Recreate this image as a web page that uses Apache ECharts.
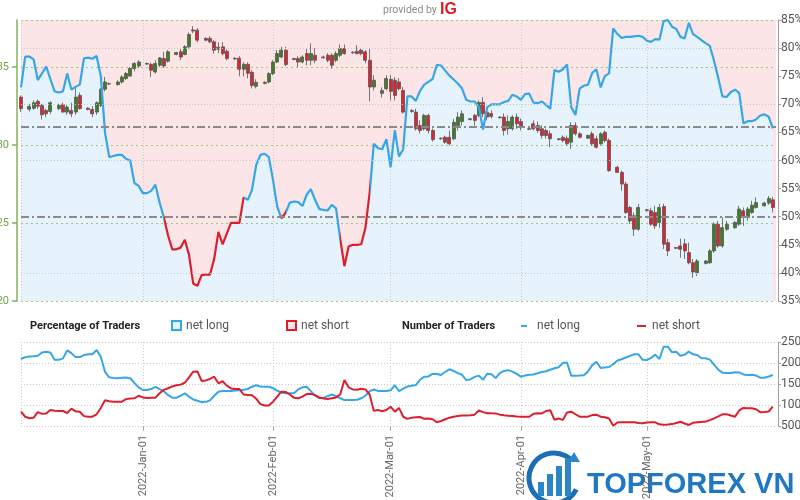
<!DOCTYPE html>
<html><head><meta charset="utf-8">
<script src="https://cdn.jsdelivr.net/npm/echarts@6/dist/echarts.min.js"></script>
<style>html,body{margin:0;padding:0;background:#fff}#c{width:800px;height:500px}</style>
</head><body><div id="c"></div><script>
// ---- daily sentiment data, one value per calendar day from 2021-12-03 ----
const lineStartDate = [2021, 11, 3];
const netLongPct = [
73.0,78.5,78.5,78.0,74.3,75.5,76.7,74.5,72.3,72.1,
72.3,75.5,72.6,73.1,73.5,78.2,78.3,78.1,78.6,75.0,
65.0,60.6,60.8,61.0,61.0,60.3,60.0,56.0,55.5,54.2,
54.2,54.6,55.7,52.5,49.9,46.7,44.2,44.2,44.5,45.9,
43.2,38.1,37.7,39.6,39.7,39.7,42.5,47.3,45.1,47.0,
48.9,48.9,48.9,53.4,53.0,54.8,59.2,61.0,61.2,60.6,
56.5,51.8,49.7,50.7,52.5,52.7,52.6,51.9,53.9,54.9,
53.0,51.4,51.2,51.1,52.1,51.5,46.0,41.2,44.7,45.0,
45.0,45.1,48.0,54.2,63.0,62.2,62.0,63.8,58.8,65.4,
60.7,62.0,71.4,71.4,70.6,72.4,73.5,74.0,74.5,77.0,
76.9,76.0,75.1,74.4,73.7,72.8,70.8,70.5,70.5,69.5,
65.5,69.5,70.0,70.0,70.0,70.4,70.6,71.7,71.4,70.8,
71.8,71.9,70.3,70.2,70.5,69.9,69.2,76.1,75.8,76.2,
77.1,69.5,68.1,72.8,73.3,73.5,75.6,76.2,73.0,75.0,
75.5,83.5,82.5,81.8,82.0,82.0,82.1,82.2,82.0,81.3,
81.1,81.6,81.5,84.8,85.0,83.8,83.4,82.0,81.7,84.5,
82.5,82.0,81.4,80.9,80.4,77.7,74.7,71.4,71.3,72.2,
72.6,72.0,66.6,67.0,67.0,67.3,68.0,68.2,67.8,65.7];
const netLongCount = [
2095,2140,2155,2160,2172,2250,2269,2250,2080,2075,
2110,2300,2235,2140,2140,2190,2207,2210,2310,2150,
1790,1660,1645,1636,1650,1655,1636,1525,1420,1357,
1357,1380,1430,1380,1330,1240,1174,1174,1220,1279,
1200,1130,1100,1068,1075,1110,1220,1317,1333,1333,
1333,1345,1350,1365,1381,1435,1470,1440,1436,1436,
1400,1340,1300,1279,1279,1279,1370,1420,1436,1330,
1230,1160,1170,1210,1250,1210,1160,1120,1119,1119,
1125,1160,1220,1330,1370,1335,1333,1333,1350,1470,
1330,1390,1440,1460,1476,1600,1674,1680,1740,1740,
1714,1790,1850,1810,1760,1720,1595,1610,1670,1700,
1600,1745,1730,1640,1760,1810,1830,1795,1740,1674,
1700,1718,1728,1755,1785,1805,1840,1874,1900,2000,
2010,1698,1698,1700,1710,1800,1950,2030,1880,1895,
1905,1970,2060,2090,2130,2170,2207,2207,2075,2071,
2120,2200,2095,2388,2388,2255,2268,2174,2195,2270,
2207,2190,2112,2112,2080,1960,1840,1770,1760,1760,
1780,1775,1728,1714,1722,1700,1650,1650,1680,1714];
const netShortCount = [
840,720,685,698,830,790,800,880,865,857,
857,810,915,850,840,735,721,721,779,930,
1115,1090,1079,1079,1080,1140,1155,1160,1220,1180,
1165,1170,1175,1280,1360,1398,1440,1470,1485,1530,
1660,1793,1800,1571,1585,1620,1674,1517,1565,1460,
1395,1381,1381,1250,1240,1230,1150,1020,990,990,
1079,1200,1317,1310,1250,1170,1160,1200,1260,1265,
1235,1180,1155,1143,1160,1180,1250,1595,1420,1370,
1362,1385,1370,1250,860,880,850,880,960,840,
930,720,670,698,710,715,670,680,660,590,
619,660,698,720,740,748,752,758,770,870,
830,805,802,800,770,755,745,738,728,721,
721,721,790,802,800,857,875,650,680,645,
820,840,780,721,721,722,760,770,722,710,
680,507,585,588,588,588,588,570,566,585,
588,588,540,528,535,545,570,600,560,525,
575,590,598,605,640,683,730,779,779,750,
722,870,930,921,921,900,830,835,845,960];

// ---- GBP/USD daily candles ----
const candleDates = [
'2021-12-03',
'2021-12-05','2021-12-06','2021-12-07','2021-12-08','2021-12-09','2021-12-10',
'2021-12-12','2021-12-13','2021-12-14','2021-12-15','2021-12-16','2021-12-17',
'2021-12-19','2021-12-20','2021-12-21','2021-12-22','2021-12-23','2021-12-24',
'2021-12-26','2021-12-27','2021-12-28','2021-12-29','2021-12-30','2021-12-31',
'2022-01-02','2022-01-03','2022-01-04','2022-01-05','2022-01-06','2022-01-07',
'2022-01-09','2022-01-10','2022-01-11','2022-01-12','2022-01-13','2022-01-14',
'2022-01-16','2022-01-17','2022-01-18','2022-01-19','2022-01-20','2022-01-21',
'2022-01-23','2022-01-24','2022-01-25','2022-01-26','2022-01-27','2022-01-28',
'2022-01-30','2022-01-31','2022-02-01','2022-02-02','2022-02-03','2022-02-04',
'2022-02-06','2022-02-07','2022-02-08','2022-02-09','2022-02-10','2022-02-11',
'2022-02-13','2022-02-14','2022-02-15','2022-02-16','2022-02-17','2022-02-18',
'2022-02-20','2022-02-21','2022-02-22','2022-02-23','2022-02-24','2022-02-25',
'2022-02-27','2022-02-28','2022-03-01','2022-03-02','2022-03-03','2022-03-04',
'2022-03-06','2022-03-07','2022-03-08','2022-03-09','2022-03-10','2022-03-11',
'2022-03-13','2022-03-14','2022-03-15','2022-03-16','2022-03-17','2022-03-18',
'2022-03-20','2022-03-21','2022-03-22','2022-03-23','2022-03-24','2022-03-25',
'2022-03-27','2022-03-28','2022-03-29','2022-03-30','2022-03-31','2022-04-01',
'2022-04-03','2022-04-04','2022-04-05','2022-04-06','2022-04-07','2022-04-08',
'2022-04-10','2022-04-11','2022-04-12','2022-04-13','2022-04-14','2022-04-15',
'2022-04-17','2022-04-18','2022-04-19','2022-04-20','2022-04-21','2022-04-22',
'2022-04-24','2022-04-25','2022-04-26','2022-04-27','2022-04-28','2022-04-29',
'2022-05-01','2022-05-02','2022-05-03','2022-05-04','2022-05-05','2022-05-06',
'2022-05-08','2022-05-09','2022-05-10','2022-05-11','2022-05-12','2022-05-13',
'2022-05-15','2022-05-16','2022-05-17','2022-05-18','2022-05-19','2022-05-20',
'2022-05-22','2022-05-23','2022-05-24','2022-05-25','2022-05-26','2022-05-27',
'2022-05-29','2022-05-30','2022-05-31'];
const opens = [
1.3306,
1.3229,1.3235,1.3279,1.3253,1.3221,1.3214,
1.3232,1.3257,1.3210,1.3221,1.3210,1.3317,
1.3235,1.3227,1.3210,1.3253,1.3356,1.3392,
1.3386,1.3403,1.3425,1.3441,1.3489,1.3506,
1.3521,1.3515,1.3467,1.3510,1.3553,1.3536,
1.3579,1.3596,1.3579,1.3628,1.3730,1.3735,
1.3682,1.3682,1.3660,1.3613,1.3628,1.3600,
1.3555,1.3555,1.3484,1.3516,1.3465,1.3375,
1.3401,1.3403,1.3457,1.3531,1.3563,1.3607,
1.3553,1.3553,1.3531,1.3585,1.3542,1.3574,
1.3563,1.3574,1.3574,1.3542,1.3574,1.3617,
1.3594,1.3600,1.3607,1.3596,1.3542,1.3371,
1.3330,1.3360,1.3420,1.3414,1.3403,1.3349,
1.3221,1.3210,1.3124,1.3103,1.3189,1.3092,
1.3043,1.3049,1.3049,1.3039,1.3124,1.3150,
1.3167,1.3189,1.3189,1.3272,1.3210,1.3201,
1.3178,1.3178,1.3103,1.3103,1.3178,1.3150,
1.3103,1.3135,1.3124,1.3103,1.3092,1.3071,
1.3039,1.3049,1.3043,1.3017,1.3124,1.3071,
1.3043,1.3071,1.3039,1.3007,1.3081,1.3028,
1.2856,1.2824,1.2749,1.2599,1.2546,1.2460,
1.2584,1.2578,1.2567,1.2503,1.2605,1.2374,
1.2342,1.2353,1.2366,1.2310,1.2245,1.2181,
1.2241,1.2245,1.2321,1.2492,1.2353,1.2460,
1.2470,1.2492,1.2578,1.2535,1.2567,1.2599,
1.2610,1.2627,1.2648];
const closes = [
1.3232,
1.3246,1.3270,1.3248,1.3193,1.3199,1.3270,
1.3253,1.3210,1.3242,1.3199,1.3306,1.3232,
1.3227,1.3199,1.3270,1.3356,1.3403,1.3390,
1.3403,1.3435,1.3457,1.3489,1.3521,1.3531,
1.3518,1.3478,1.3521,1.3557,1.3506,1.3596,
1.3592,1.3563,1.3628,1.3707,1.3736,1.3671,
1.3671,1.3660,1.3607,1.3626,1.3585,1.3553,
1.3551,1.3484,1.3516,1.3459,1.3381,1.3401,
1.3394,1.3457,1.3531,1.3585,1.3607,1.3515,
1.3547,1.3531,1.3563,1.3542,1.3585,1.3542,
1.3558,1.3542,1.3510,1.3585,1.3617,1.3585,
1.3590,1.3585,1.3585,1.3542,1.3371,1.3414,
1.3349,1.3425,1.3343,1.3317,1.3360,1.3210,
1.3214,1.3103,1.3092,1.3189,1.3092,1.3034,
1.3039,1.3017,1.3007,1.3145,1.3178,1.3199,
1.3163,1.3157,1.3272,1.3199,1.3178,1.3182,
1.3174,1.3092,1.3150,1.3178,1.3135,1.3113,
1.3100,1.3103,1.3092,1.3060,1.3060,1.3039,
1.3034,1.3028,1.3007,1.3124,1.3071,1.3049,
1.3060,1.3007,1.2985,1.3071,1.3028,1.2835,
1.2824,1.2749,1.2567,1.2513,1.2460,1.2599,
1.2580,1.2492,1.2481,1.2599,1.2364,1.2321,
1.2338,1.2331,1.2321,1.2245,1.2186,1.2256,
1.2256,1.2321,1.2492,1.2353,1.2470,1.2492,
1.2503,1.2589,1.2535,1.2589,1.2614,1.2631,
1.2627,1.2657,1.2599];
const highs = [
1.3317,
1.3264,1.3285,1.3291,1.3264,1.3232,1.3279,
1.3264,1.3270,1.3257,1.3270,1.3364,1.3335,
1.3242,1.3248,1.3279,1.3364,1.3435,1.3399,
1.3414,1.3446,1.3467,1.3499,1.3531,1.3542,
1.3527,1.3527,1.3542,1.3563,1.3596,1.3607,
1.3596,1.3617,1.3639,1.3720,1.3761,1.3748,
1.3690,1.3697,1.3671,1.3658,1.3658,1.3613,
1.3561,1.3568,1.3529,1.3529,1.3478,1.3420,
1.3407,1.3465,1.3542,1.3607,1.3628,1.3628,
1.3558,1.3568,1.3574,1.3617,1.3650,1.3619,
1.3571,1.3587,1.3587,1.3600,1.3643,1.3643,
1.3600,1.3639,1.3619,1.3607,1.3617,1.3446,
1.3369,1.3446,1.3446,1.3433,1.3427,1.3371,
1.3227,1.3232,1.3157,1.3199,1.3199,1.3105,
1.3047,1.3060,1.3092,1.3167,1.3210,1.3221,
1.3172,1.3199,1.3285,1.3306,1.3234,1.3221,
1.3182,1.3201,1.3189,1.3189,1.3201,1.3169,
1.3108,1.3157,1.3150,1.3124,1.3105,1.3092,
1.3044,1.3060,1.3060,1.3145,1.3145,1.3081,
1.3066,1.3086,1.3060,1.3081,1.3092,1.3041,
1.2867,1.2835,1.2764,1.2610,1.2567,1.2621,
1.2591,1.2597,1.2610,1.2621,1.2623,1.2398,
1.2346,1.2400,1.2398,1.2374,1.2269,1.2269,
1.2263,1.2333,1.2503,1.2513,1.2535,1.2513,
1.2513,1.2610,1.2599,1.2603,1.2642,1.2663,
1.2636,1.2673,1.2668];
const lows = [
1.3210,
1.3214,1.3225,1.3232,1.3163,1.3178,1.3199,
1.3221,1.3206,1.3193,1.3178,1.3193,1.3227,
1.3221,1.3178,1.3193,1.3242,1.3343,1.3385,
1.3381,1.3392,1.3414,1.3435,1.3471,1.3493,
1.3512,1.3435,1.3457,1.3499,1.3493,1.3527,
1.3574,1.3542,1.3574,1.3617,1.3716,1.3658,
1.3664,1.3652,1.3585,1.3587,1.3574,1.3542,
1.3542,1.3439,1.3439,1.3426,1.3362,1.3362,
1.3388,1.3394,1.3446,1.3523,1.3555,1.3504,
1.3542,1.3499,1.3523,1.3510,1.3510,1.3523,
1.3552,1.3529,1.3489,1.3529,1.3561,1.3578,
1.3584,1.3579,1.3574,1.3523,1.3279,1.3349,
1.3304,1.3349,1.3285,1.3285,1.3349,1.3201,
1.3205,1.3092,1.3073,1.3092,1.3073,1.3021,
1.3034,1.3008,1.2996,1.3028,1.3092,1.3124,
1.3156,1.3124,1.3178,1.3178,1.3157,1.3169,
1.3169,1.3060,1.3066,1.3092,1.3103,1.3092,
1.3095,1.3092,1.3077,1.3041,1.3041,1.2985,
1.3028,1.3015,1.2996,1.2974,1.3060,1.3041,
1.3038,1.2996,1.2976,1.2996,1.3015,1.2828,
1.2819,1.2706,1.2558,1.2494,1.2417,1.2449,
1.2571,1.2481,1.2462,1.2470,1.2333,1.2288,
1.2333,1.2277,1.2269,1.2235,1.2149,1.2160,
1.2234,1.2237,1.2308,1.2342,1.2342,1.2449,
1.2462,1.2481,1.2481,1.2514,1.2558,1.2591,
1.2604,1.2616,1.2567];

const neutralLevel = 50;
const currentLongLevel = 66;
const pctGridLevels = [40, 60, 70, 80];
const monthNames = ['Jan','Feb','Mar','Apr','May','Jun','Jul','Aug','Sep','Oct','Nov','Dec'];

// ---- build ----
const DAY = 86400000;
const BLUE = '#35a6e6', RED = '#dd1f2d';
function parseDay(s){ const p = s.split('-').map(Number); return new Date(p[0], p[1]-1, p[2]).getTime(); }
const lineTimes = netLongPct.map((_, i) => new Date(lineStartDate[0], lineStartDate[1], lineStartDate[2] + i).getTime());
const pctData = netLongPct.map((v, i) => [lineTimes[i], v]);
const longData = netLongCount.map((v, i) => [lineTimes[i], v]);
const shortData = netShortCount.map((v, i) => [lineTimes[i], v]);
const candleData = candleDates.map((d, i) => [parseDay(d), opens[i], closes[i], lows[i], highs[i]]);

// colour each segment by the side that held the majority at its start
const pieces = [];
for (let i = 0; i < netLongPct.length; i++) {
  const col = netLongPct[i] < neutralLevel ? RED : BLUE;
  const a = lineTimes[i], b = i + 1 < lineTimes.length ? lineTimes[i+1] : lineTimes[i] + DAY;
  const last = pieces[pieces.length - 1];
  if (last && last.color === col) last.lt = b; else pieces.push({gte: a, lt: b, color: col});
}

const xMin = new Date(2021, 11, 3).getTime();
const xMax = new Date(2022, 4, 31, 18).getTime();
const fmtDate = v => { const d = new Date(v); if (d.getDate() !== 1 || d.getHours() !== 0) return ''; return d.getFullYear() + '-' + monthNames[d.getMonth()] + '-' + String(d.getDate()).padStart(2, '0'); };
const FONT = 'Roboto, "Liberation Sans", sans-serif';
const dotted = {color: '#c9c9c9', type: [1, 2], width: 1};

const chart = echarts.init(document.getElementById('c'), null, {renderer: 'canvas'});
chart.setOption({
  animation: false,
  backgroundColor: '#fff',
  textStyle: {fontFamily: FONT},
  grid: [
    {left: 21, right: 24, top: 20, height: 281, show: true, backgroundColor: '#fce5e6', borderWidth: 0, containLabel: false, outerBoundsMode: 'none'},
    {left: 21, right: 24, top: 342, height: 84, show: false, containLabel: false, outerBoundsMode: 'none'}
  ],
  xAxis: [
    {type: 'time', gridIndex: 0, min: xMin, max: xMax, splitNumber: 6, minInterval: 28*DAY, maxInterval: 31*DAY, z: 2,
     axisLine: {show: false}, axisTick: {show: false}, axisLabel: {show: false},
     splitLine: {show: true, showMaxLine: false, lineStyle: dotted}},
    {type: 'time', gridIndex: 1, min: xMin, max: xMax, splitNumber: 6, minInterval: 28*DAY, maxInterval: 31*DAY, z: 2,
     axisLine: {show: false}, axisTick: {show: true, length: 5, lineStyle: {color: '#aaa'}},
     axisLabel: {rotate: 90, margin: 9, color: '#666', fontSize: 11, formatter: fmtDate, hideOverlap: false},
     splitLine: {show: true, showMaxLine: false, lineStyle: dotted}}
  ],
  yAxis: [
    {type: 'value', gridIndex: 0, position: 'left', offset: 4, min: 1.20, max: 1.38, interval: 0.05, z: 2,
     axisLine: {show: true, lineStyle: {color: '#7fb35a', width: 1.5}},
     axisTick: {show: true, length: 5, lineStyle: {color: '#7fb35a', width: 1.5}},
     axisLabel: {color: '#6ea544', fontSize: 11, margin: 8, showMaxLabel: false, formatter: v => v.toFixed(2)},
     splitLine: {show: true, lineStyle: {color: '#9cc97a', type: [2, 3], width: 1}}},
    {type: 'value', gridIndex: 0, position: 'right', offset: 2, min: 35, max: 85, interval: 5, z: 2,
     axisLine: {show: true, lineStyle: {color: '#a0a0a0'}},
     axisTick: {show: true, length: 3, lineStyle: {color: '#a0a0a0'}},
     axisLabel: {color: '#555', fontSize: 12, margin: 3, formatter: v => v + '%'},
     splitLine: {show: false}},
    {type: 'value', gridIndex: 1, position: 'right', offset: 2, min: 500, max: 2500, interval: 500, z: 2,
     axisLine: {show: true, lineStyle: {color: '#a0a0a0'}},
     axisTick: {show: true, length: 3, lineStyle: {color: '#a0a0a0'}},
     axisLabel: {color: '#555', fontSize: 12, margin: 3, formatter: v => String(v)},
     splitLine: {show: true, lineStyle: dotted}}
  ],
  visualMap: [{type: 'piecewise', show: false, seriesIndex: 1, dimension: 0, pieces: pieces, outOfRange: {color: BLUE}}],
  series: [
    {name: 'area', type: 'line', xAxisIndex: 0, yAxisIndex: 1, data: pctData, showSymbol: false, silent: true, z: 1,
     lineStyle: {width: 0, color: '#e6f3fc'}, itemStyle: {color: '#e6f3fc'},
     areaStyle: {color: '#e6f3fc', opacity: 1, origin: 'start'}},
    {name: 'net long %', type: 'line', xAxisIndex: 0, yAxisIndex: 1, data: pctData, showSymbol: false, z: 4,
     lineStyle: {width: 2.2},
     markLine: {symbol: 'none', silent: true, label: {show: false}, animation: false,
       lineStyle: {color: '#8a8a8a', width: 2, type: [8, 3, 2, 3]},
       data: [{yAxis: neutralLevel}, {yAxis: currentLongLevel}]}},
    {name: 'grid10', type: 'line', xAxisIndex: 0, yAxisIndex: 1, data: [], z: 2,
     markLine: {symbol: 'none', silent: true, label: {show: false},
       lineStyle: {color: '#c9c9c9', width: 1, type: [1, 2]},
       data: pctGridLevels.map(v => ({yAxis: v}))}},
    {name: 'price', type: 'candlestick', xAxisIndex: 0, yAxisIndex: 0, data: candleData, z: 3, clip: false,
     encode: {x: 0, y: [1, 2, 3, 4]}, barWidth: 3.5,
     itemStyle: {color: '#3f7f22', color0: '#dc2530', borderColor: '#555', borderColor0: '#555', borderWidth: 0.8}},
    {name: 'net long', type: 'line', xAxisIndex: 1, yAxisIndex: 2, data: longData, showSymbol: false, z: 3,
     lineStyle: {width: 2, color: BLUE}, itemStyle: {color: BLUE}},
    {name: 'net short', type: 'line', xAxisIndex: 1, yAxisIndex: 2, data: shortData, showSymbol: false, z: 3,
     lineStyle: {width: 2, color: RED}, itemStyle: {color: RED}}
  ],
  graphic: [
    {type: 'text', x: 383, y: 10, style: {text: 'provided by', fill: '#8a8a8a', font: '10.5px ' + FONT, verticalAlign: 'middle', textVerticalAlign: 'middle'}},
    {type: 'text', x: 440, y: 10, style: {text: 'IG', fill: '#e31b23', font: 'bold 16px "Liberation Sans", Arial, sans-serif', verticalAlign: 'middle', textVerticalAlign: 'middle'}},
    {type: 'text', x: 30, y: 326, style: {text: 'Percentage of Traders', fill: '#222', font: 'bold 11px ' + FONT, verticalAlign: 'middle', textVerticalAlign: 'middle'}},
    {type: 'rect', shape: {x: 172, y: 321, width: 9, height: 9}, style: {fill: '#e6f3fc', stroke: BLUE, lineWidth: 2}},
    {type: 'text', x: 186, y: 326, style: {text: 'net long', fill: '#555', font: '12px ' + FONT, verticalAlign: 'middle', textVerticalAlign: 'middle'}},
    {type: 'rect', shape: {x: 287, y: 321, width: 9, height: 9}, style: {fill: '#fce5e6', stroke: RED, lineWidth: 2}},
    {type: 'text', x: 301, y: 326, style: {text: 'net short', fill: '#555', font: '12px ' + FONT, verticalAlign: 'middle', textVerticalAlign: 'middle'}},
    {type: 'text', x: 402, y: 326, style: {text: 'Number of Traders', fill: '#222', font: 'bold 11px ' + FONT, verticalAlign: 'middle', textVerticalAlign: 'middle'}},
    {type: 'line', shape: {x1: 521, y1: 326, x2: 527, y2: 326}, style: {stroke: BLUE, lineWidth: 2}},
    {type: 'text', x: 537, y: 326, style: {text: 'net long', fill: '#555', font: '12px ' + FONT, verticalAlign: 'middle', textVerticalAlign: 'middle'}},
    {type: 'line', shape: {x1: 637, y1: 326, x2: 646, y2: 326}, style: {stroke: RED, lineWidth: 2}},
    {type: 'text', x: 652, y: 326, style: {text: 'net short', fill: '#555', font: '12px ' + FONT, verticalAlign: 'middle', textVerticalAlign: 'middle'}},
    // watermark
    {type: 'group', z: 100, children: [
      {type: 'arc', shape: {cx: 554, cy: 478, r: 25, startAngle: Math.PI * 0.15, endAngle: Math.PI * 1.75}, style: {stroke: '#1d6fb5', lineWidth: 5, fill: null}},
      {type: 'rect', shape: {x: 538, y: 482, width: 6, height: 14}, style: {fill: '#2b86c8'}},
      {type: 'rect', shape: {x: 547, y: 474, width: 6, height: 22}, style: {fill: '#2b86c8'}},
      {type: 'rect', shape: {x: 556, y: 466, width: 6, height: 30}, style: {fill: '#2b86c8'}},
      {type: 'rect', shape: {x: 565, y: 458, width: 6, height: 38}, style: {fill: '#2b86c8'}},
      {type: 'polygon', shape: {points: [[574, 452], [580, 462], [568, 462]]}, style: {fill: '#2b86c8'}},
      {type: 'text', x: 587, y: 485, style: {text: 'TOPFOREX VN', fill: '#1f78c1', font: 'bold 29px "Liberation Sans", Arial, sans-serif', verticalAlign: 'middle', textVerticalAlign: 'middle'}}
    ]}
  ]
});
</script></body></html>
